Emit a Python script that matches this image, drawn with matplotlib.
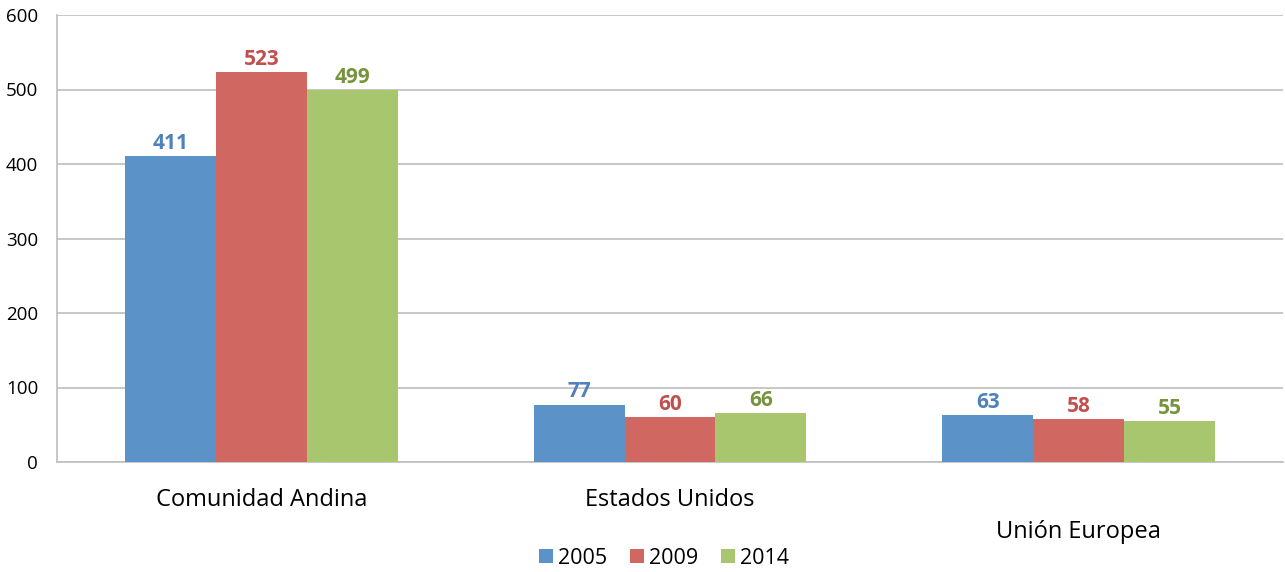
import matplotlib
matplotlib.use("Agg")
import matplotlib.pyplot as plt
import numpy as np

categories = ["Comunidad Andina", "Estados Unidos", "Unión Europea"]
series_names = ["2005", "2009", "2014"]
v2005 = [411, 77, 63]
v2009 = [523, 60, 58]
v2014 = [499, 66, 55]
yticks = [0, 100, 200, 300, 400, 500, 600]

bar_colors = ["#5B93C8", "#D16761", "#A8C66D"]
label_colors = ["#4F81BD", "#C0504D", "#77933C"]

plt.rcParams['font.family'] = ['Open Sans', 'DejaVu Sans']

fig = plt.figure(figsize=(12.85, 5.72), dpi=100)
ax = fig.add_axes([57/1285, 1-462/572, (1283-57)/1285, (462-15)/572])

x = np.arange(len(categories))
w = 0.2225
for i, (vals, name) in enumerate(zip([v2005, v2009, v2014], series_names)):
    bars = ax.bar(x + (i-1)*w, vals, w, color=bar_colors[i], label=name, zorder=3)
    for b, v in zip(bars, vals):
        ax.text(b.get_x()+b.get_width()/2, v+3, str(v), ha='center', va='bottom',
                fontsize=15, fontweight='bold', color=label_colors[i], zorder=4)

ax.set_xlim(-0.5, 2.5)
ax.set_ylim(0, 600)
ax.set_yticks(yticks)
ax.set_yticklabels([str(t) for t in yticks], fontsize=13.5)
ax.tick_params(axis='y', length=0, pad=13.5)
ax.tick_params(axis='x', length=0)
ax.set_xticks([])
ax.grid(axis='y', color='#BEBEBE', linewidth=1.2, zorder=0)
for s in ['top', 'right']:
    ax.spines[s].set_visible(False)
ax.spines['left'].set_color('#BEBEBE')
ax.spines['left'].set_linewidth(1.2)
ax.spines['bottom'].set_color('#BEBEBE')
ax.spines['bottom'].set_linewidth(1.2)

label_y = [500, 500, 532]
for xi, cat, py in zip(x, categories, label_y):
    xd = ax.transData.transform((xi, 0))[0]
    fig.text(xd/1285, 1-py/572, cat, ha='center', va='center', fontsize=17)

handles, labels = ax.get_legend_handles_labels()
fig.legend(handles, labels, loc='center', bbox_to_anchor=(664/1285, 1-558/572), ncol=3,
           frameon=False, fontsize=15.5, handlelength=0.65, handleheight=0.65,
           handletextpad=0.25, columnspacing=1.05)

fig.savefig("out.png", dpi=100)
